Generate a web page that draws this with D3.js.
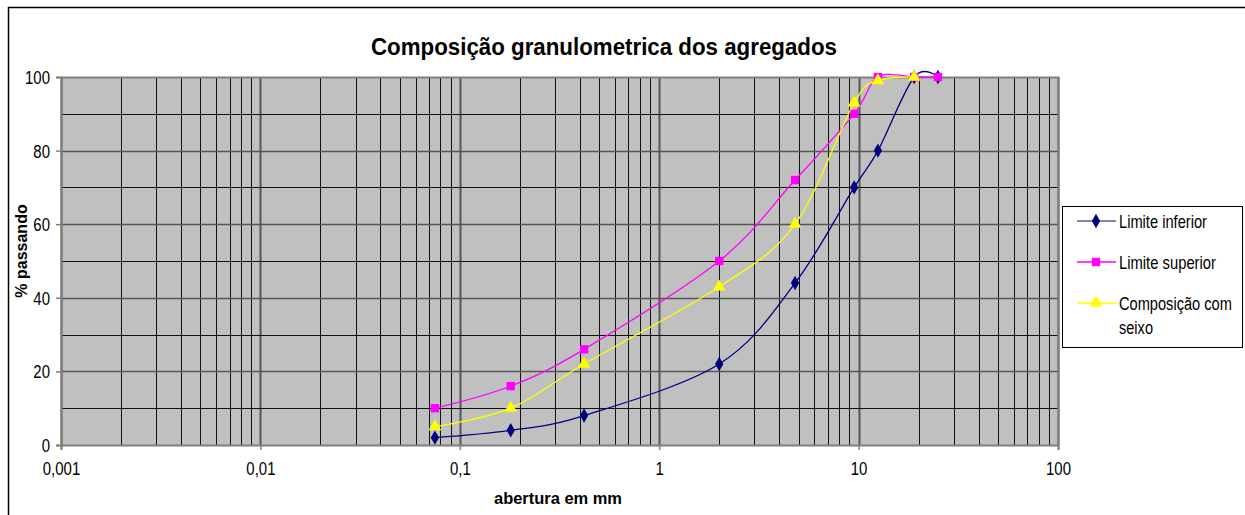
<!DOCTYPE html>
<html>
<head>
<meta charset="utf-8">
<script src="https://cdn.jsdelivr.net/npm/d3@7"></script>
<style>
  body { margin: 0; background: #fff; }
  svg { display: block; font-family: "Liberation Sans", Arial, sans-serif; }
</style>
</head>
<body>
<svg id="chart" width="1245" height="515"></svg>
<script>
// sieve openings (mm) and % passing
const aberturas = [0.075, 0.18, 0.42, 2.0, 4.8, 9.5, 12.5, 19, 25];
const limiteInferior = [2, 4, 8, 22, 44, 70, 80, 100, 100];
const limiteSuperior = [10, 16, 26, 50, 72, 90, 100, 100, 100];
const composicao = [5, 10, 22, 43, 60, 93, 99, 100];
const xTicks = [0.001, 0.01, 0.1, 1, 10, 100];
const xTickLabels = ["0,001", "0,01", "0,1", "1", "10", "100"];
const yTicks = [0, 20, 40, 60, 80, 100];

var margin = {left: 61, top: 77, right: 1058, bottom: 445};

var svg = d3.select("#chart");

// outer chart frame
svg.append("rect")
  .attr("x", 8.5).attr("y", 7.5)
  .attr("width", 1245).attr("height", 520)
  .attr("fill", "#fff").attr("stroke", "#000").attr("stroke-width", 1.5);

var xScale = d3.scaleLog().domain([0.001, 100]).range([margin.left, margin.right]);
var yScale = d3.scaleLinear().domain([0, 100]).range([margin.bottom, margin.top]);

// plot area
svg.append("rect")
  .attr("x", margin.left).attr("y", margin.top)
  .attr("width", margin.right - margin.left).attr("height", margin.bottom - margin.top)
  .attr("fill", "#c0c0c0");

// vertical grid (log minor + major)
var minorX = [];
for (var d = 0.001; d < 100; d *= 10) {
  for (var k = 2; k <= 9; k++) minorX.push(d * k);
}
svg.append("g").selectAll("line").data(minorX).enter().append("line")
  .attr("x1", function(v) { return Math.round(xScale(v)) + 0.5; })
  .attr("x2", function(v) { return Math.round(xScale(v)) + 0.5; })
  .attr("y1", margin.top).attr("y2", margin.bottom)
  .attr("stroke", "#111").attr("stroke-width", 1);
svg.append("g").selectAll("line").data(xTicks).enter().append("line")
  .attr("x1", function(v) { return Math.round(xScale(v)) + 0.5; })
  .attr("x2", function(v) { return Math.round(xScale(v)) + 0.5; })
  .attr("y1", margin.top).attr("y2", margin.bottom)
  .attr("stroke", "#555").attr("stroke-width", 2);

// horizontal grid
var yGrid = d3.range(10, 100, 10);
svg.append("g").selectAll("line").data(yGrid).enter().append("line")
  .attr("x1", margin.left).attr("x2", margin.right)
  .attr("y1", function(v) { return Math.round(yScale(v)) + 0.5; })
  .attr("y2", function(v) { return Math.round(yScale(v)) + 0.5; })
  .attr("stroke", function(v) { return v % 20 === 0 ? "#555" : "#111"; })
  .attr("stroke-width", function(v) { return v % 20 === 0 ? 1.5 : 1; });

// plot border top/right
svg.append("path")
  .attr("d", "M" + margin.left + "," + (margin.top + 0.5) + "H" + (margin.right + 0.5) + "V" + margin.bottom)
  .attr("fill", "none").attr("stroke", "#808080").attr("stroke-width", 2);

// axes
var xAxis = svg.append("g")
  .attr("transform", "translate(0," + margin.bottom + ")")
  .call(d3.axisBottom(xScale).tickValues(xTicks)
    .tickFormat(function(d, i) { return xTickLabels[i]; })
    .tickSize(5).tickPadding(14));
var yAxis = svg.append("g")
  .attr("transform", "translate(" + margin.left + ",0)")
  .call(d3.axisLeft(yScale).tickValues(yTicks).tickSize(5).tickPadding(6));

// excel-ish condensed tick text: tall glyphs, narrower width
[xAxis, yAxis].forEach(function(a) {
  a.select(".domain").attr("stroke", "#808080").attr("stroke-width", 2);
  a.selectAll(".tick line").attr("stroke", "#808080").attr("stroke-width", 1.5);
  a.selectAll(".tick text")
    .style("font-family", "'Liberation Sans', Arial, sans-serif")
    .style("font-size", "18px").attr("fill", "#000")
    .each(function() {
      var w = this.getComputedTextLength();
      d3.select(this).attr("textLength", w * 0.83).attr("lengthAdjust", "spacingAndGlyphs");
    });
});
xAxis.selectAll(".tick text").attr("dy", "0.6em");
yAxis.selectAll(".tick text").attr("dy", "0.36em");

// title and axis labels
svg.append("text")
  .attr("x", 604).attr("y", 55)
  .attr("text-anchor", "middle")
  .style("font-size", "23px").style("font-weight", "bold")
  .attr("textLength", 466).attr("lengthAdjust", "spacingAndGlyphs")
  .text("Composição granulometrica dos agregados");

svg.append("text")
  .attr("x", 558).attr("y", 504)
  .attr("text-anchor", "middle")
  .style("font-size", "16px").style("font-weight", "bold")
  .attr("textLength", 128).attr("lengthAdjust", "spacingAndGlyphs")
  .text("abertura em mm");

svg.append("text")
  .attr("transform", "translate(27,251) rotate(-90)")
  .attr("text-anchor", "middle")
  .style("font-size", "16px").style("font-weight", "bold")
  .text("% passando");

// series
var series = [
  {name: "Limite inferior", values: limiteInferior, color: "#000080", marker: d3.symbolDiamond, size: 60, w: 88},
  {name: "Limite superior", values: limiteSuperior, color: "#ff00ff", marker: d3.symbolSquare, size: 70, w: 97},
  {name: "Composição com", values: composicao, color: "#ffff00", marker: d3.symbolTriangle, size: 70, w: 113}
];

var line = d3.line()
  .x(function(d) { return xScale(d[0]); })
  .y(function(d) { return yScale(d[1]); })
  .curve(d3.curveCatmullRom.alpha(0));

series.forEach(function(s) {
  var pts = s.values.map(function(v, i) { return [aberturas[i], v]; });
  svg.append("path").datum(pts)
    .attr("d", line)
    .attr("fill", "none").attr("stroke", s.color).attr("stroke-width", 1.3);
  svg.append("g").selectAll("path").data(pts).enter().append("path")
    .attr("transform", function(d) { return "translate(" + xScale(d[0]) + "," + yScale(d[1]) + ")"; })
    .attr("d", d3.symbol().type(s.marker).size(s.size))
    .attr("fill", s.color);
});

// legend
var legend = svg.append("g");
legend.append("rect")
  .attr("x", 1062.5).attr("y", 206.5)
  .attr("width", 180).attr("height", 141)
  .attr("fill", "#fff").attr("stroke", "#000").attr("stroke-width", 1);

// condensed legend label: scale a tall font down horizontally
function legendText(x, y, str, w) {
  var g = legend.append("g").attr("transform", "translate(" + x + "," + y + ")");
  var t = g.append("text").style("font-size", "18px").text(str);
  var nat = t.node().getComputedTextLength();
  t.attr("transform", "scale(" + (w / nat) + ",1)");
}

var legendY = [221, 262, 303];
series.forEach(function(s, i) {
  var y = legendY[i];
  legend.append("line")
    .attr("x1", 1077).attr("x2", 1116).attr("y1", y).attr("y2", y)
    .attr("stroke", i === 0 ? "#5a5aa8" : s.color).attr("stroke-width", 1.3);
  legend.append("path")
    .attr("transform", "translate(1096," + y + ")")
    .attr("d", d3.symbol().type(s.marker).size(s.size))
    .attr("fill", s.color);
  legendText(1119, y + 6.5, s.name, s.w);
  if (i === 2) legendText(1119, y + 30.5, "seixo", 34);
});
</script>
</body>
</html>
